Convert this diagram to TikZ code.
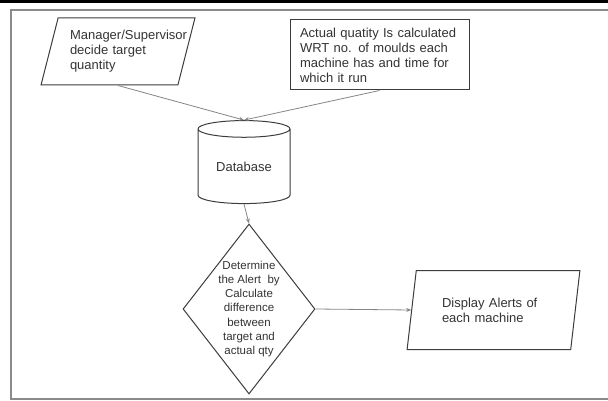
\documentclass[tikz,border=0pt]{standalone}
\usepackage{fontspec}
\setmainfont{Liberation Sans}
\usepackage{tikz}
\usetikzlibrary{shapes.geometric,arrows.meta}

\definecolor{edgegray}{HTML}{3C3C3C}
\definecolor{linegray}{HTML}{858585}
\definecolor{framegray}{HTML}{8A8A8A}
\definecolor{txtgray}{HTML}{333333}

\begin{document}
\begin{tikzpicture}[x = 1pt, y = -1pt,
            box/.style = {draw = edgegray, line width = 1pt, text = txtgray,
                          inner sep = 0pt, font = \fontsize{13}{15}\selectfont},
            io/.style = {box, trapezium, trapezium stretches = true},
            flow/.style = {draw = linegray, line width = 0.8pt,
                           -{Stealth[length = 5pt, width = 4pt]}}]
            \useasboundingbox (0,0) rectangle (608,401);
            \fill [black] (0,0) rectangle (608,3);
            \draw [framegray, line width = 2pt]
            (608,10) -- (11,10) -- (11,399) -- (608,399);

            \node [io, trapezium left angle = 72, trapezium right angle = 108,
                   minimum width = 154pt, minimum height = 67pt,
                   text width = 96pt, align = left]
            (manager) at (118,51.5) {Manager/Supervisor\\decide target\\quantity};

            \node [box, rectangle, minimum width = 179pt, minimum height = 70pt,
                   text width = 159pt, align = left]
            (actual) at (379.5,55) {Actual quatity Is calculated\\WRT no. of moulds each\\machine has and time for\\which it run};

            \node [box, cylinder, shape border rotate = 90, aspect = 0.3,
                   minimum width = 92pt, minimum height = 83pt]
            (db) at (244,166.5) {Database};

            \node [box, diamond, minimum width = 132pt, minimum height = 170pt]
            (alert) at (249,309) {};
            \node [text = txtgray, inner sep = 0pt, align = center,
                   font = \fontsize{11.5}{14.3}\selectfont]
            (alerttxt) at (alert) {Determine\\the Alert~ by\\Calculate\\difference\\between\\target and\\actual qty};

            \node [io, trapezium left angle = 76, trapezium right angle = 104,
                   minimum width = 173pt, minimum height = 79pt,
                   text width = 103pt, align = left]
            (display) at (493.5,310) {Display Alerts of\\each machine};

            \draw [flow] (manager.south) -- (db.north);
            \draw [flow] (actual.south) -- (db.north);
            \draw [flow] (db.south) -- (alert.north);
            \draw [flow] (alert.east) -- (display.west);
        \end{tikzpicture}
\end{document}
